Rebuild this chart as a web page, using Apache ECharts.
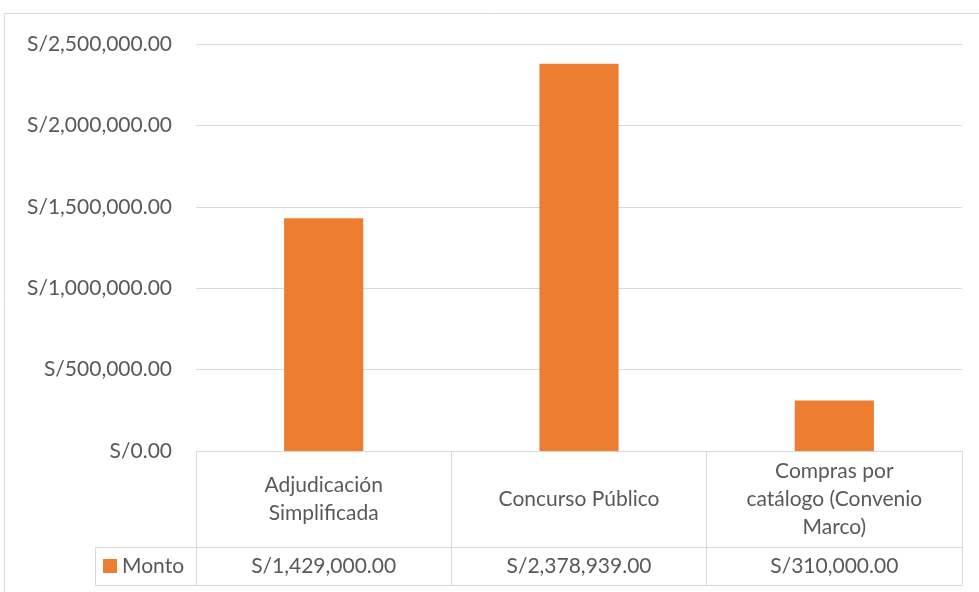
<!DOCTYPE html>
<html>
<head>
<meta charset="utf-8">
<script src="https://cdn.jsdelivr.net/npm/echarts@6/dist/echarts.min.js"></script>
<style>
  html, body { margin: 0; padding: 0; background: #fff; }
  #main { width: 979px; height: 592px; }
</style>
</head>
<body>
<div id="main"></div>
<script>
// data
var categories = ['Adjudicación\nSimplificada', 'Concurso Público', 'Compras por\ncatálogo (Convenio\nMarco)']
var montos = [1429000, 2378939, 310000]
var seriesName = 'Monto'
var yMin = 0
var yMax = 2500000
var yStep = 500000

var gray = '#595959'
var lineGray = '#d9d9d9'
var orange = '#ED7D31'
var font = 'Lato'

function soles(v) {
    return 'S/' + Number(v).toLocaleString('en-US', { minimumFractionDigits: 2, maximumFractionDigits: 2 })
}

var gridLeft = 196, gridRight = 17, gridTop = 44, gridBottom = 141

var option = {
    animation: false,
    textStyle: { fontFamily: font },
    grid: { left: gridLeft, right: gridRight, top: gridTop, bottom: gridBottom },
    legend: {
        data: [seriesName],
        left: 103,
        top: 555,
        padding: 0,
        icon: 'rect',
        itemWidth: 14,
        itemHeight: 14,
        itemGap: 6,
        textStyle: { color: gray, fontSize: 21, lineHeight: 22, fontFamily: font, padding: [0, 0, 0, 0] }
    },
    xAxis: [
        {
            type: 'category',
            data: categories,
            axisLine: { show: true, lineStyle: { color: lineGray, width: 1 } },
            axisTick: { show: true, length: 134, lineStyle: { color: lineGray } },
            axisLabel: {
                color: gray, fontSize: 21, lineHeight: 28, fontFamily: font,
                margin: 48, verticalAlign: 'middle', align: 'center', interval: 0
            }
        },
        {
            type: 'category',
            data: categories,
            position: 'bottom',
            offset: 96,
            axisLine: { show: true, lineStyle: { color: lineGray, width: 1 } },
            axisTick: { show: false },
            axisLabel: {
                color: gray, fontSize: 21, fontFamily: font,
                margin: 19, verticalAlign: 'middle', interval: 0,
                formatter: function (v, i) { return soles(montos[i]) }
            }
        },
        {
            type: 'category',
            data: categories,
            position: 'bottom',
            offset: 134,
            axisLine: { show: true, lineStyle: { color: lineGray, width: 1 } },
            axisTick: { show: false },
            axisLabel: { show: false }
        }
    ],
    yAxis: {
        type: 'value',
        min: yMin,
        max: yMax,
        interval: yStep,
        axisLine: { show: false },
        axisTick: { show: false },
        splitLine: { lineStyle: { color: lineGray, width: 1 } },
        axisLabel: {
            color: gray, fontSize: 21, fontFamily: font, margin: 24,
            formatter: function (v) { return soles(v) }
        }
    },
    graphic: [
        {
            type: 'rect',
            shape: { x: 4.5, y: 13.5, width: 1000, height: 1000 },
            style: { fill: 'none', stroke: lineGray, lineWidth: 1 },
            silent: true
        },
        {
            type: 'rect',
            shape: { x: 95.5, y: 547.5, width: 101, height: 38 },
            style: { fill: 'none', stroke: lineGray, lineWidth: 1 },
            silent: true
        }
    ],
    series: [
        {
            name: seriesName,
            type: 'bar',
            data: montos,
            barWidth: '31%',
            itemStyle: { color: orange }
        }
    ]
}

var myChart = echarts.init(document.getElementById('main'))
myChart.setOption(option)
</script>
</body>
</html>
